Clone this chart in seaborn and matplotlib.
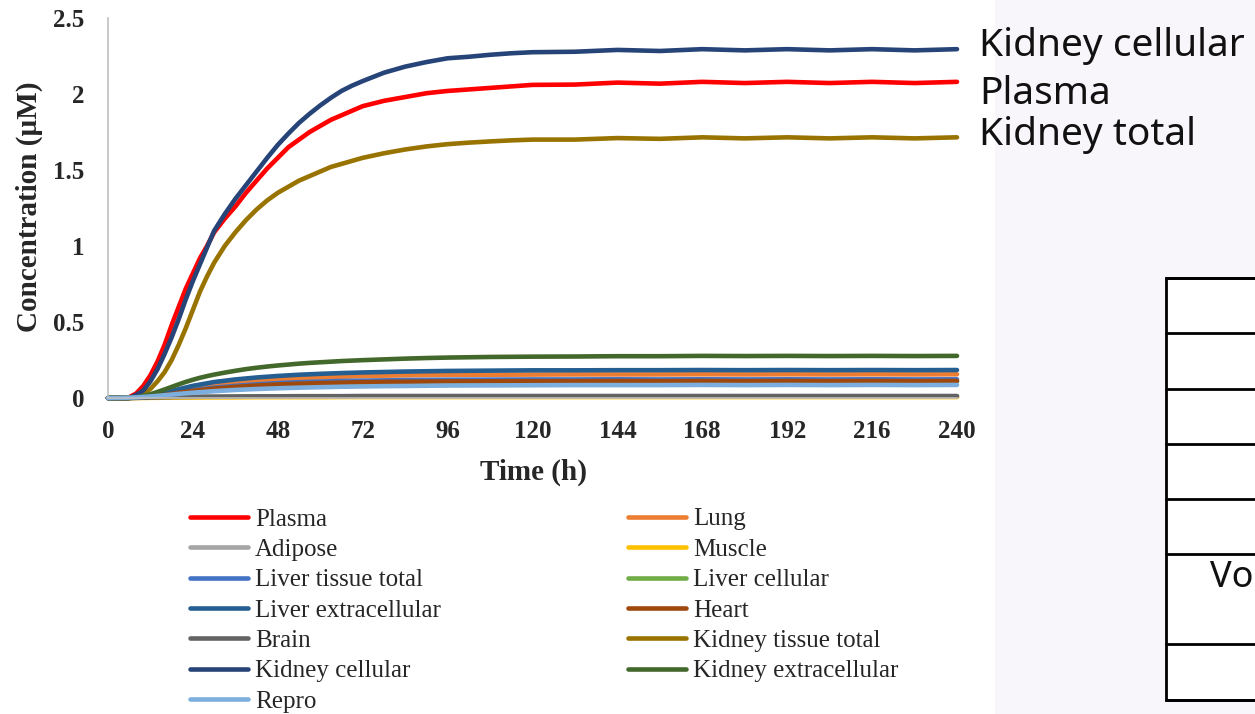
import matplotlib
matplotlib.use("Agg")
import matplotlib.pyplot as plt
from matplotlib.lines import Line2D
from matplotlib.patches import Rectangle
import seaborn as sns
import pandas as pd

# ---------------- data ----------------
# dense sampling for the four large curves
time_main = [0, 4, 6, 8, 10, 12, 14, 16, 18, 20, 22, 24, 26, 28, 30, 33, 36, 39, 42, 45, 48, 51, 54,
             57, 60, 63, 66, 69, 72, 78, 84, 90, 96, 102, 108, 114, 120, 132, 144, 156, 168, 180,
             192, 204, 216, 228, 240]
plasma = [0, 0.0, 0.005, 0.03, 0.08, 0.15, 0.24, 0.35, 0.48, 0.60, 0.72, 0.82, 0.92, 1.00, 1.09,
          1.18, 1.26, 1.35, 1.43, 1.51, 1.58, 1.65, 1.70, 1.75, 1.79, 1.83, 1.86, 1.89, 1.92, 1.955,
          1.98, 2.005, 2.02, 2.03, 2.04, 2.05, 2.06, 2.062, 2.075, 2.068, 2.08, 2.072, 2.08, 2.072,
          2.08, 2.072, 2.08]
kidney_cell = [0, 0.0, 0.0, 0.02, 0.05, 0.11, 0.19, 0.29, 0.40, 0.52, 0.65, 0.77, 0.88, 0.99, 1.10,
               1.21, 1.31, 1.40, 1.49, 1.58, 1.665, 1.74, 1.81, 1.87, 1.925, 1.975, 2.02, 2.055, 2.085,
               2.14, 2.18, 2.21, 2.235, 2.245, 2.258, 2.268, 2.275, 2.278, 2.29, 2.283, 2.295, 2.287,
               2.295, 2.287, 2.295, 2.287, 2.295]
kidney_total = [0, 0.0, 0.0, 0.01, 0.03, 0.06, 0.11, 0.17, 0.25, 0.35, 0.46, 0.58, 0.70, 0.80, 0.89,
                1.00, 1.09, 1.17, 1.24, 1.30, 1.35, 1.39, 1.43, 1.46, 1.49, 1.52, 1.54, 1.56, 1.58,
                1.61, 1.635, 1.655, 1.67, 1.68, 1.688, 1.695, 1.70, 1.70, 1.71, 1.705, 1.715, 1.708,
                1.715, 1.708, 1.715, 1.708, 1.715]
kidney_extra = [0, 0.0, 0.001, 0.005, 0.013, 0.025, 0.04, 0.056, 0.073, 0.09, 0.106, 0.12, 0.133,
                0.144, 0.154, 0.167, 0.179, 0.19, 0.199, 0.207, 0.214, 0.22, 0.226, 0.231, 0.235,
                0.239, 0.243, 0.246, 0.249, 0.254, 0.259, 0.263, 0.266, 0.268, 0.27, 0.271, 0.272,
                0.273, 0.275, 0.275, 0.277, 0.276, 0.277, 0.276, 0.277, 0.276, 0.277]

# coarser sampling for the small organ curves
time_minor = [0, 4, 8, 12, 16, 20, 24, 30, 36, 42, 48, 54, 60, 66, 72, 78, 84,
              96, 108, 120, 132, 144, 156, 168, 180, 192, 204, 216, 228, 240]
lung = [0, 0, 0.002, 0.01, 0.025, 0.042, 0.06, 0.08, 0.097, 0.11, 0.12, 0.128, 0.135, 0.14, 0.144,
        0.147, 0.149, 0.152, 0.153, 0.154, 0.155, 0.155, 0.155, 0.156, 0.155, 0.156, 0.155, 0.156, 0.155, 0.156]
adipose = [0, 0, 0.001, 0.002, 0.004, 0.005, 0.006, 0.007, 0.008, 0.009, 0.009, 0.010, 0.010, 0.010, 0.010,
           0.011, 0.011, 0.011, 0.011, 0.011, 0.011, 0.011, 0.011, 0.011, 0.011, 0.011, 0.011, 0.011, 0.011, 0.011]
muscle = [0, 0, 0.0, 0.001, 0.002, 0.003, 0.003, 0.004, 0.004, 0.005, 0.005, 0.005, 0.005, 0.006, 0.006,
          0.006, 0.006, 0.006, 0.006, 0.006, 0.006, 0.006, 0.006, 0.006, 0.006, 0.006, 0.006, 0.006, 0.006, 0.006]
liver_total = [0, 0, 0.002, 0.01, 0.022, 0.037, 0.052, 0.068, 0.08, 0.09, 0.098, 0.104, 0.108, 0.112, 0.114,
               0.116, 0.118, 0.12, 0.121, 0.122, 0.122, 0.123, 0.122, 0.123, 0.122, 0.123, 0.122, 0.123, 0.122, 0.123]
liver_cell = [0, 0, 0.002, 0.008, 0.019, 0.032, 0.045, 0.059, 0.07, 0.079, 0.086, 0.091, 0.095, 0.098, 0.1,
              0.102, 0.103, 0.105, 0.106, 0.107, 0.107, 0.108, 0.107, 0.108, 0.107, 0.108, 0.107, 0.108, 0.107, 0.108]
liver_extra = [0, 0, 0.003, 0.015, 0.035, 0.058, 0.08, 0.105, 0.122, 0.135, 0.145, 0.153, 0.159, 0.164, 0.168,
               0.171, 0.174, 0.178, 0.18, 0.182, 0.182, 0.183, 0.183, 0.184, 0.183, 0.184, 0.183, 0.184, 0.183, 0.184]
heart = [0, 0, 0.002, 0.009, 0.02, 0.034, 0.047, 0.062, 0.073, 0.082, 0.089, 0.094, 0.098, 0.101, 0.104,
         0.106, 0.107, 0.109, 0.11, 0.111, 0.111, 0.112, 0.111, 0.112, 0.111, 0.112, 0.111, 0.112, 0.111, 0.112]
brain = [0, 0, 0.001, 0.003, 0.005, 0.007, 0.008, 0.009, 0.010, 0.011, 0.011, 0.012, 0.012, 0.012, 0.013,
         0.013, 0.013, 0.013, 0.013, 0.013, 0.013, 0.013, 0.013, 0.013, 0.013, 0.013, 0.013, 0.013, 0.013, 0.013]
repro = [0, 0.001, 0.004, 0.01, 0.018, 0.027, 0.035, 0.045, 0.053, 0.059, 0.064, 0.068, 0.071, 0.074, 0.076,
         0.078, 0.079, 0.082, 0.083, 0.084, 0.085, 0.085, 0.085, 0.086, 0.085, 0.086, 0.085, 0.086, 0.085, 0.086]

series_names = ["Plasma", "Lung", "Adipose", "Muscle", "Liver tissue total", "Liver cellular",
                "Liver extracellular", "Heart", "Brain", "Kidney tissue total", "Kidney cellular",
                "Kidney extracellular", "Repro"]
series_values = [plasma, lung, adipose, muscle, liver_total, liver_cell, liver_extra, heart, brain,
                 kidney_total, kidney_cell, kidney_extra, repro]
series_times = [time_main, time_minor, time_minor, time_minor, time_minor, time_minor, time_minor,
                time_minor, time_minor, time_main, time_main, time_main, time_minor]
series_colors = ["#FF0000", "#ED7D31", "#A5A5A5", "#FFC000", "#4472C4", "#70AD47", "#255E91",
                 "#9E480E", "#636363", "#997300", "#264478", "#43682B", "#7CAFDD"]

x_ticks = [0, 24, 48, 72, 96, 120, 144, 168, 192, 216, 240]
y_ticks = [0, 0.5, 1, 1.5, 2, 2.5]
y_tick_labels = ["0", "0.5", "1", "1.5", "2", "2.5"]

annot_labels = ["Kidney cellular", "Plasma", "Kidney total"]

rows = []
for name, ts, vals in zip(series_names, series_times, series_values):
    for t, v in zip(ts, vals):
        rows.append({"Time": t, "Conc": v, "Series": name})
df = pd.DataFrame(rows)

# ---------------- figure ----------------
sns.set_style("white")
plt.rcParams["font.family"] = ["Liberation Serif", "DejaVu Serif"]

W, H = 1255, 714
fig = plt.figure(figsize=(W / 100, H / 100), dpi=100)
fig.patch.set_facecolor("white")

# right-hand lavender panel
fig.patches.append(Rectangle((995 / W, 0), 1 - 995 / W, 1, transform=fig.transFigure,
                             facecolor="#F8F6FA", edgecolor="none", zorder=0))

ax = fig.add_axes([108 / W, 1 - 398 / H, 849 / W, 380 / H])
ax.set_facecolor("white")

sns.lineplot(data=df, x="Time", y="Conc", hue="Series", hue_order=series_names,
             palette=dict(zip(series_names, series_colors)), linewidth=3.3,
             legend=False, errorbar=None, ax=ax)
for ln in ax.lines:
    ln.set_clip_on(False)
    ln.set_solid_capstyle("round")
    ln.set_solid_joinstyle("round")

ax.set_xlim(0, 240)
ax.set_ylim(0, 2.5)
ax.set_xticks(x_ticks)
ax.set_xticklabels([str(v) for v in x_ticks], fontsize=18, fontweight="bold")
ax.set_yticks(y_ticks)
ax.set_yticklabels(y_tick_labels, fontsize=18, fontweight="bold")
ax.tick_params(axis="both", length=0)
ax.tick_params(axis="y", pad=17)
ax.tick_params(axis="x", pad=16)

for s in ["top", "right"]:
    ax.spines[s].set_visible(False)
ax.spines["left"].set_color("#BFBFBF")
ax.spines["left"].set_linewidth(1.2)
ax.spines["bottom"].set_color("#BFBFBF")
ax.spines["bottom"].set_linewidth(1.2)

ax.set_xlabel("Time (h)", fontsize=21, fontweight="bold")
ax.xaxis.set_label_coords((533 - 108) / 849, (398 - 472) / 380)
ax.xaxis.label.set_verticalalignment("center")
ax.set_ylabel("Concentration (µM)", fontsize=21, fontweight="bold")
ax.yaxis.set_label_coords((29 - 108) / 849, (398 - 207) / 380)
ax.yaxis.label.set_verticalalignment("center")

# legend (row-major order as in the reference -> reorder for column-first fill)
handles = [Line2D([0], [0], color=c, lw=3.3) for c in series_colors]
col1 = list(range(0, 13, 2))
col2 = list(range(1, 13, 2))
order = col1 + col2
fig.legend([handles[i] for i in order], [series_names[i] for i in order],
           ncol=2, loc="upper left", bbox_to_anchor=(190 / W, 1 - 508 / H),
           frameon=False, fontsize=18, handlelength=2.3, handletextpad=0.3,
           labelspacing=0.315, columnspacing=7.5, borderpad=0, borderaxespad=0)

# right-hand annotations
for lab, yc in zip(annot_labels, [46, 94, 135]):
    fig.text(979 / W, 1 - yc / H, lab, fontsize=28, family=["Noto Sans", "DejaVu Sans"],
             va="center", ha="left", color="#111111")

# partial table on the right
tx0 = 1166
row_edges = [278, 333, 389, 444, 499, 554, 644, 700]
fig.patches.append(Rectangle((tx0 / W, 1 - 700 / H), (W - tx0 + 5) / W, (700 - 278) / H,
                             transform=fig.transFigure, facecolor="white", edgecolor="black",
                             linewidth=2, zorder=1))
for ye in row_edges:
    fig.lines.append(Line2D([tx0 / W, 1.0], [1 - ye / H, 1 - ye / H], transform=fig.transFigure,
                            color="black", linewidth=2, zorder=2))
fig.text(1253 / W, 1 - 578 / H, "Vo", fontsize=26, family=["Noto Sans", "DejaVu Sans"],
         va="center", ha="right", color="#111111")

fig.savefig("out.png", dpi=100)
